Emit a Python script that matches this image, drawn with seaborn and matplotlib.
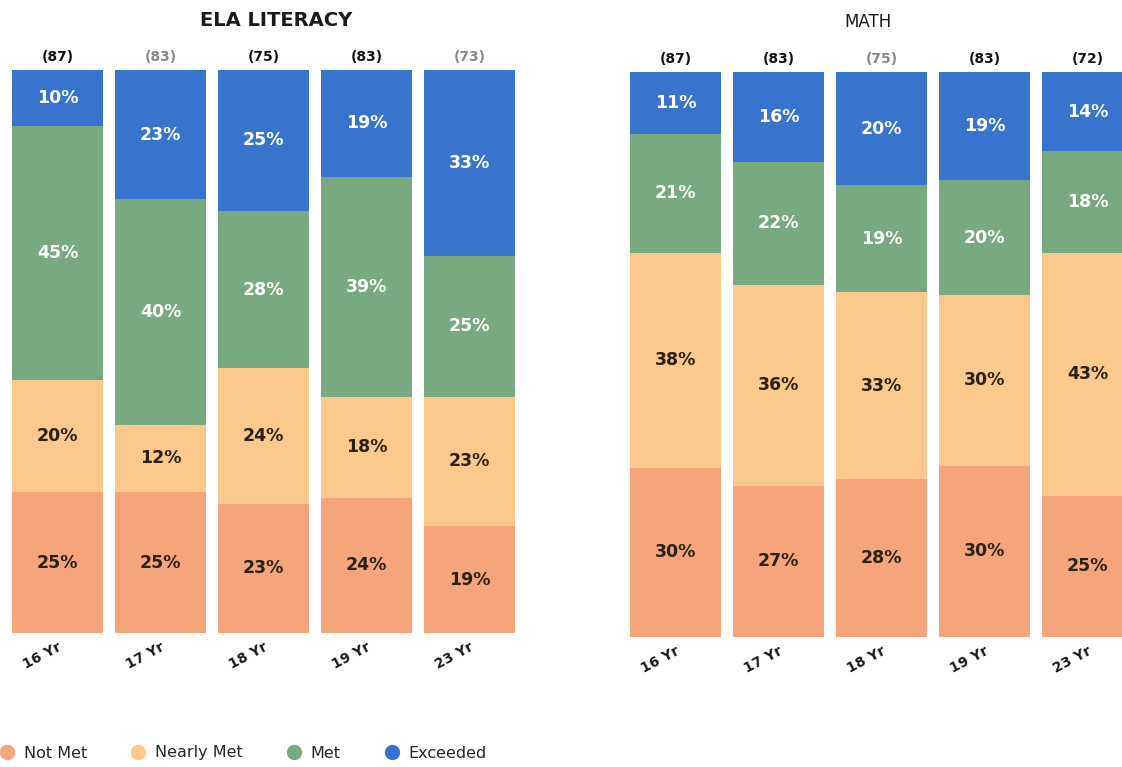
import numpy as np
import pandas as pd
import matplotlib
matplotlib.use("Agg")
import matplotlib.pyplot as plt
from matplotlib.lines import Line2D
import seaborn as sns

sns.set_theme(style="white")
plt.rcParams['font.family'] = ['DejaVu Sans']

# data (bottom -> top: Not Met, Nearly Met, Met, Exceeded)
ages = ["16 Yr", "17 Yr", "18 Yr", "19 Yr", "23 Yr"]
levels = ["Not Met", "Nearly Met", "Met", "Exceeded"]

ela_not_met = [25, 25, 23, 24, 19]
ela_nearly = [20, 12, 24, 18, 23]
ela_met = [45, 40, 28, 39, 25]
ela_exceeded = [10, 23, 25, 19, 33]
ela_n = [87, 83, 75, 83, 73]

math_not_met = [30, 27, 28, 30, 25]
math_nearly = [38, 36, 33, 30, 43]
math_met = [21, 22, 19, 20, 18]
math_exceeded = [11, 16, 20, 19, 14]
math_n = [87, 83, 75, 83, 72]

colors = ["#F6A47B", "#FCC98C", "#79A980", "#3873CD"]
text_colors = ["#2a2218", "#2a2218", "white", "white"]

W, H = 1122, 767
fig = plt.figure(figsize=(W / 100, H / 100), dpi=100)


def px_axes(left, top, bottom):
    # axes in pixel coords (top/bottom measured from top of image)
    return fig.add_axes([left / W, (H - bottom) / H, 515 / W, (bottom - top) / H])


def draw_panel(ax, parts, counts, count_colors):
    df = pd.DataFrame({lv: p for lv, p in zip(levels, parts)}, index=ages)
    # rounded percentages don't always add to 100, scale bars to full height
    share = df.div(df.sum(axis=1), axis=0) * 100
    cum = share.cumsum(axis=1)
    # draw cumulative layers from the top one down so they stack
    for i in range(len(levels) - 1, -1, -1):
        sns.barplot(x=ages, y=cum[levels[i]].values, color=colors[i],
                    width=0.88, saturation=1, ax=ax, order=ages, linewidth=0)
    for j, age in enumerate(ages):
        base = 0
        for i, lv in enumerate(levels):
            h = share.loc[age, lv]
            ax.text(j, base + h / 2, f"{df.loc[age, lv]}%", ha="center", va="center",
                    color=text_colors[i], fontsize=12.5, fontweight="bold")
            base += h
        ax.text(j, 102.3, f"({counts[j]})", ha="center", va="center",
                fontsize=10, fontweight="bold", color=count_colors[j])
    ax.set_xlim(-0.5, 4.5)
    ax.set_ylim(0, 100)
    ax.set_yticks([])
    ax.set_ylabel("")
    ax.set_xticks(range(len(ages)))
    ax.set_xticklabels(ages, rotation=28, ha="right", rotation_mode="anchor",
                       fontsize=10, fontweight="bold", color="#1a1a1a")
    ax.tick_params(axis="x", length=0, pad=5)
    for s in ax.spines.values():
        s.set_visible(False)


ax1 = px_axes(6, 70, 633)
draw_panel(ax1, [ela_not_met, ela_nearly, ela_met, ela_exceeded], ela_n,
           ["#111111", "#888888", "#111111", "#111111", "#888888"])
ax2 = px_axes(624, 72, 637)
draw_panel(ax2, [math_not_met, math_nearly, math_met, math_exceeded], math_n,
           ["#111111", "#111111", "#888888", "#111111", "#111111"])

fig.text(276 / W, 1 - 20 / H, "ELA LITERACY", ha="center", va="center",
         fontsize=14, fontweight="bold", color="#1a1a1a")
fig.text(868 / W, 1 - 22 / H, "MATH", ha="center", va="center",
         fontsize=12, color="#1a1a1a")

handles = [Line2D([], [], marker="o", linestyle="", markersize=10,
                  markerfacecolor=c, markeredgecolor=c) for c in colors]
fig.legend(handles, levels, loc="center left", bbox_to_anchor=(-0.005, 1 - 753 / H),
           ncol=4, frameon=False, fontsize=11.5, handletextpad=0.65,
           columnspacing=2.8, handlelength=0.8, borderaxespad=0)

fig.savefig("out.png", dpi=100, facecolor="white")
